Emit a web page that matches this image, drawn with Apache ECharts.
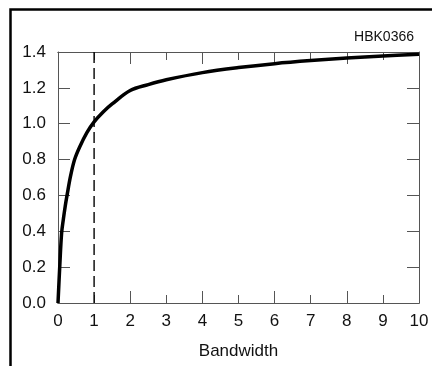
<!DOCTYPE html>
<html>
<head>
<meta charset="utf-8">
<script src="https://cdn.jsdelivr.net/npm/echarts@6/dist/echarts.min.js"></script>
<style>
  html, body { margin: 0; padding: 0; background: #fff; }
  #chart { width: 432px; height: 366px; }
</style>
</head>
<body>
<div id="chart"></div>
<script>
// curve (x = bandwidth, y = value)
const bandwidth = [0, 0.05, 0.1, 0.15, 0.2, 0.25, 0.35, 0.46, 0.6, 0.8, 1, 1.25, 1.5, 2, 2.5, 3, 4, 5, 6, 7, 8, 9, 10];
const response = [0, 0.21, 0.39, 0.47, 0.54, 0.6, 0.71, 0.8, 0.87, 0.95, 1.01, 1.065, 1.11, 1.185, 1.218, 1.245, 1.285, 1.313, 1.335, 1.352, 1.366, 1.378, 1.388];
const markerX = 1;            // dashed vertical line
const yTicks = [0, 1.4, 0.2]; // min, max, step
const chartTag = 'HBK0366';
const xName = 'Bandwidth';

const font = 'Liberation Sans, Arial, sans-serif';
const frameColor = '#555';

const chart = echarts.init(document.getElementById('chart'));

// x axes: one labelled, the others only add inward ticks (long on even numbers)
function tickAxis(position, interval, len, withLabels) {
    return {
        type: 'value', min: 0, max: 10, interval: interval, position: position,
        axisLine: { show: true, onZero: false, lineStyle: { color: frameColor, width: 1 } },
        axisTick: { show: true, inside: true, length: len, lineStyle: { color: frameColor, width: 1 } },
        axisLabel: withLabels
            ? { show: true, margin: 10, fontSize: 17, fontFamily: font, color: '#111' }
            : { show: false },
        splitLine: { show: false }
    };
}

function yAxisAt(position, withLabels) {
    return {
        type: 'value', min: yTicks[0], max: yTicks[1], interval: yTicks[2], position: position,
        axisLine: { show: true, onZero: false, lineStyle: { color: frameColor, width: 1 } },
        axisTick: { show: true, inside: true, length: 12, lineStyle: { color: frameColor, width: 1 } },
        axisLabel: withLabels
            ? { margin: 12, fontSize: 17, fontFamily: font, color: '#111', formatter: v => v.toFixed(1) }
            : { show: false },
        splitLine: { show: false }
    };
}

const xMain = tickAxis('bottom', 1, 8, true);
xMain.name = xName;
xMain.nameLocation = 'middle';
xMain.nameGap = 40;
xMain.nameTextStyle = { fontSize: 17, fontFamily: font, color: '#111' };

const option = {
    animation: false,
    title: {
        text: chartTag, right: 13, top: 25,
        textStyle: { fontSize: 14, fontWeight: 'normal', fontFamily: font, color: '#111' }
    },
    grid: { left: 58, right: 13, top: 52, bottom: 63 },
    xAxis: [
        xMain,
        tickAxis('bottom', 2, 12, false),
        tickAxis('top', 1, 8, false),
        tickAxis('top', 2, 12, false)
    ],
    yAxis: [yAxisAt('left', true), yAxisAt('right', false)],
    // outer box, only its top and left edges fall inside the picture
    graphic: [{
        type: 'rect', left: 8, top: 7,
        shape: { width: 600, height: 600 },
        style: { fill: null, stroke: '#000', lineWidth: 2.5 }
    }],
    series: [
        {
            name: 'marker', type: 'line', xAxisIndex: 0, yAxisIndex: 0,
            data: [[markerX, yTicks[0]], [markerX, yTicks[1]]],
            symbol: 'none', silent: true,
            lineStyle: { color: '#000', width: 1.4, type: [11, 5] }
        },
        {
            name: 'response', type: 'line', xAxisIndex: 0, yAxisIndex: 0,
            data: bandwidth.map((x, i) => [x, response[i]]),
            symbol: 'none', smooth: 0.35, silent: true,
            lineStyle: { color: '#000', width: 3.5 }
        }
    ]
};

chart.setOption(option);
</script>
</body>
</html>
